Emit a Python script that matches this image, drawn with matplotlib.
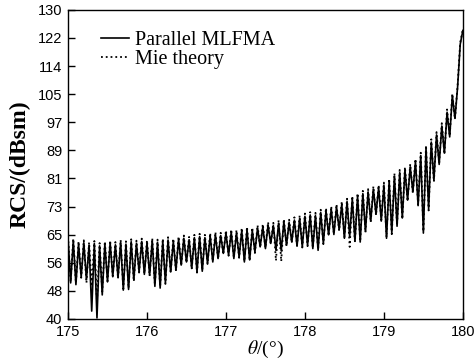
import numpy as np
import matplotlib
matplotlib.use("Agg")
import matplotlib.pyplot as plt

# ---- data ----
# one peak / one trough per oscillation, theta from 175 to 180 deg
mlfma_peaks = [63.5, 62.8, 61.8, 62.2, 61.5, 62.0, 61.3, 61.9, 62.2, 61.6,
               62.3, 61.8, 62.5, 62.0, 62.6, 62.1, 62.8, 62.3, 62.6, 63.0,
               62.6, 63.2, 63.5, 63.1, 63.7, 64.0, 63.7, 64.2, 64.5, 64.3,
               65.0, 65.3, 65.1, 65.7, 66.0, 65.8, 66.5, 66.8, 67.4, 67.2,
               67.9, 68.3, 68.1, 68.8, 69.3, 69.9, 70.3, 70.1, 71.0, 71.5,
               72.0, 72.6, 73.4, 74.2, 75.0, 75.8, 76.5, 77.0, 77.8, 78.2,
               78.9, 80.0, 81.6, 82.6, 83.4, 84.3, 85.8, 87.6, 89.8, 91.5,
               93.6, 96.2, 100.2, 105.0, 107.5, 124.0]
mlfma_troughs = [50.5, 50.0, 52.2, 51.5, 42.3, 40.3, 47.0, 50.8, 52.3, 52.0,
                 48.4, 48.6, 51.3, 53.7, 53.0, 52.8, 49.5, 49.0, 50.6, 53.7,
                 54.2, 55.7, 56.6, 54.7, 53.7, 53.9, 56.2, 56.6, 57.6, 59.1,
                 58.6, 57.6, 58.0, 56.6, 57.2, 59.5, 61.0, 60.5, 62.0, 60.0,
                 59.8, 61.5, 62.4, 61.2, 61.0, 61.5, 60.5, 60.0, 62.0, 64.5,
                 64.6, 66.0, 63.5, 64.0, 62.6, 62.4, 65.5, 68.5, 70.5, 68.5,
                 63.5, 65.0, 67.0, 69.4, 74.6, 77.0, 73.0, 65.0, 72.0, 80.4,
                 85.0, 88.3, 93.0, 98.4, 120.0]
mie_peaks = [64.0, 63.4, 62.6, 62.9, 62.3, 62.7, 62.1, 62.6, 62.9, 62.4,
             63.0, 62.6, 63.2, 62.8, 63.4, 62.9, 63.5, 63.1, 63.4, 63.8,
             63.4, 64.0, 64.3, 63.9, 64.5, 64.8, 64.5, 65.0, 65.3, 65.1,
             65.8, 66.1, 65.9, 66.5, 66.8, 66.6, 67.3, 67.6, 68.2, 68.0,
             68.7, 69.1, 68.9, 69.6, 70.1, 70.7, 71.1, 70.9, 71.8, 72.3,
             72.8, 73.4, 74.2, 75.0, 75.8, 76.6, 77.3, 77.8, 78.6, 79.0,
             79.7, 80.8, 82.4, 83.4, 84.2, 85.1, 86.6, 88.4, 90.6, 92.3,
             94.4, 97.0, 101.0, 105.6, 108.0, 124.3]
mie_troughs = [50.8, 50.5, 52.0, 50.5, 49.5, 45.0, 48.0, 51.0, 52.5, 51.8,
               48.8, 49.0, 51.0, 53.5, 53.2, 52.5, 50.0, 49.5, 50.2, 53.5,
               54.0, 55.5, 56.4, 54.5, 53.5, 54.2, 56.0, 56.8, 57.4, 58.8,
               58.4, 57.8, 57.8, 56.8, 57.0, 59.2, 60.8, 60.7, 61.8, 57.0,
               56.8, 61.2, 62.2, 61.4, 60.8, 61.2, 60.7, 60.2, 61.8, 64.2,
               64.8, 65.7, 63.8, 61.0, 62.4, 62.6, 65.2, 68.2, 70.2, 68.8,
               63.8, 64.7, 67.3, 69.1, 74.3, 76.6, 73.3, 65.5, 71.6, 80.0,
               85.3, 88.0, 93.3, 98.2, 120.5]
theta_start, theta_end = 175.0, 180.0
x_ticks = [175, 176, 177, 178, 179, 180]
y_tick_labels = ['40', '48', '56', '65', '73', '81', '89', '97', '105',
                 '114', '122', '130']


def interleave(peaks, troughs):
    vals = np.empty(len(peaks) + len(troughs))
    vals[0::2] = peaks
    vals[1::2] = troughs
    return vals


mlfma = interleave(mlfma_peaks, mlfma_troughs)
mie = interleave(mie_peaks, mie_troughs)
theta = np.linspace(theta_start, theta_end, len(mlfma))

plt.rcParams['mathtext.fontset'] = 'stix'

fig = plt.figure(figsize=(4.74, 3.62), dpi=100)
ax = fig.add_axes([0.1435, 0.1188, 0.8330, 0.8540])

ax.plot(theta, mlfma, color='black', lw=1.2, ls='-', label='Parallel MLFMA')
ax.plot(theta, mie, color='black', lw=1.3, ls=':', label='Mie theory')

ax.set_xlim(175, 180)
ax.set_ylim(40, 130)
ax.set_xticks(x_ticks)
ax.set_xticklabels([str(t) for t in x_ticks])
ax.set_yticks(np.linspace(40, 130, len(y_tick_labels)))
ax.set_yticklabels(y_tick_labels)

for lab in ax.get_xticklabels() + ax.get_yticklabels():
    lab.set_family('Liberation Sans')
    lab.set_fontsize(10.5)

ax.tick_params(direction='in', length=5, width=1, pad=4,
               top=False, right=False)
for s in ax.spines.values():
    s.set_linewidth(1.0)

ax.set_ylabel('RCS/(dBsm)', family='Liberation Serif', fontweight='bold',
              fontsize=17, labelpad=5)
ax.set_xlabel(r'$\mathit{\theta}$/(°)', family='Liberation Serif',
              fontsize=14, labelpad=0)

leg = ax.legend(loc='upper left', frameon=False,
                prop={'family': 'Liberation Serif', 'size': 14.5},
                handlelength=1.4, handletextpad=0.3, labelspacing=0.0,
                borderpad=0.0, borderaxespad=0.0,
                bbox_to_anchor=(0.083, 0.932))

fig.savefig('out.png', dpi=100)
